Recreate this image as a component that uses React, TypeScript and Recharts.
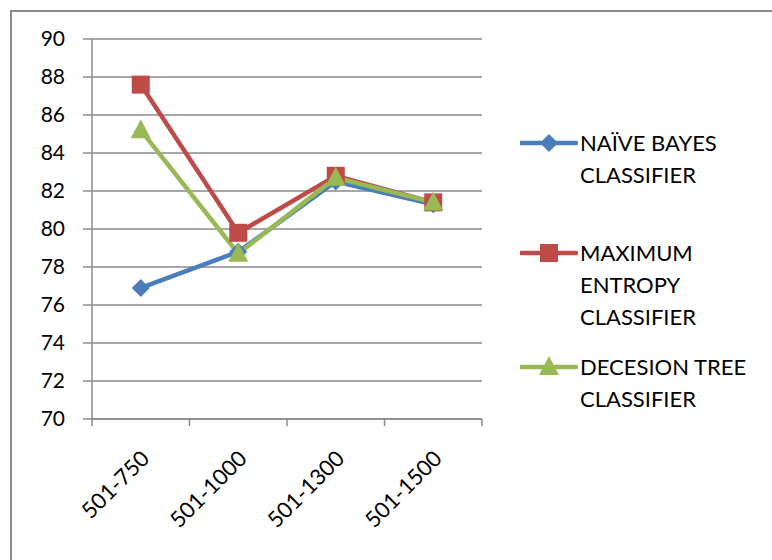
import { CartesianGrid, Line, LineChart, XAxis, YAxis } from "recharts";

const categories = ["501-750", "501-1000", "501-1300", "501-1500"];
const naiveBayes = [76.9, 78.8, 82.5, 81.3];
const maxEntropy = [87.6, 79.8, 82.8, 81.4];
const decisionTree = [85.2, 78.7, 82.7, 81.4];
const yTicks = [70, 72, 74, 76, 78, 80, 82, 84, 86, 88, 90];
// band edges get a tick mark, band centres get the category label
const xTicks = [0, 0.5, 1, 1.5, 2, 2.5, 3, 3.5, 4];

const series = [
    { key: "nb", name: "NAÏVE BAYES CLASSIFIER", color: "#4a7ebb", shape: "diamond", gap: 46 },
    { key: "me", name: "MAXIMUM ENTROPY CLASSIFIER", color: "#be4b48", shape: "square", gap: 18 },
    { key: "dt", name: "DECESION TREE CLASSIFIER", color: "#98b954", shape: "triangle", gap: 0 },
];

const data = categories.map((c, i) => ({
    x: i + 0.5,
    name: c,
    nb: naiveBayes[i],
    me: maxEntropy[i],
    dt: decisionTree[i],
}));

const FONT = "Lato, 'Open Sans', sans-serif";

function Marker({ cx, cy, shape, color }: { cx: number; cy: number; shape: string; color: string }) {
    if (shape === "diamond") {
        const r = 9;
        return <path d={`M${cx},${cy - r}L${cx + r},${cy}L${cx},${cy + r}L${cx - r},${cy}Z`} fill={color} />;
    }
    if (shape === "square") {
        return <rect x={cx - 9} y={cy - 9} width={18} height={18} fill={color} />;
    }
    return <path d={`M${cx},${cy - 11}L${cx + 10},${cy + 8}L${cx - 10},${cy + 8}Z`} fill={color} />;
}

function makeDot(shape: string, color: string) {
    return (p: any) => <Marker key={p.index} cx={p.cx} cy={p.cy} shape={shape} color={color} />;
}

function XTick({ x, y, payload }: any) {
    const v = payload.value;
    if (Number.isInteger(v)) {
        return <line x1={x} x2={x} y1={y} y2={y + 7} stroke="#8a8a8a" strokeWidth={1.5} />;
    }
    return (
        <g transform={`translate(${x + 10},${y + 41})`}>
            <text transform="rotate(-45)" textAnchor="end" fontSize={22} fontFamily={FONT} fill="#000">
                {categories[Math.floor(v)]}
            </text>
        </g>
    );
}

function LegendBox() {
    return (
        <div
            style={{
                position: "absolute",
                left: 520,
                top: 127,
                width: 250,
                fontFamily: FONT,
                fontSize: 22,
                lineHeight: "32px",
                color: "#000",
            }}
        >
            {series.map((s) => (
                <div key={s.key} style={{ display: "flex", alignItems: "flex-start", marginBottom: s.gap }}>
                    <svg width={58} height={32} style={{ flex: "none" }}>
                        <line x1={1} x2={56} y1={16} y2={16} stroke={s.color} strokeWidth={4.5} strokeLinecap="round" />
                        <Marker cx={29} cy={16} shape={s.shape} color={s.color} />
                    </svg>
                    <div style={{ width: 180, marginLeft: 2 }}>{s.name}</div>
                </div>
            ))}
        </div>
    );
}

export default function App() {
    return (
        <div style={{ position: "absolute", left: 0, top: 0, width: 772, height: 560, background: "#fff", overflow: "hidden" }}>
            <div
                style={{
                    position: "absolute",
                    left: 10,
                    top: 10,
                    width: 800,
                    height: 600,
                    borderTop: "2px solid #8c8c8c",
                    borderLeft: "2px solid #8c8c8c",
                }}
            />
            <LineChart width={772} height={560} data={data} margin={{ top: 39, right: 290, bottom: 41, left: 12 }}>
                <CartesianGrid vertical={false} stroke="#8a8a8a" strokeWidth={1.5} />
                <XAxis
                    type="number"
                    dataKey="x"
                    domain={[0, 4]}
                    ticks={xTicks}
                    interval={0}
                    height={100}
                    stroke="#8a8a8a"
                    strokeWidth={1.5}
                    tickLine={false}
                    tickSize={0}
                    tickMargin={0}
                    tick={<XTick />}
                />
                <YAxis
                    domain={[70, 90]}
                    ticks={yTicks}
                    width={80}
                    stroke="#8a8a8a"
                    strokeWidth={1.5}
                    tickSize={9}
                    tickMargin={18}
                    tick={{ fill: "#000", fontSize: 21, fontFamily: FONT }}
                />
                {series.map((s) => (
                    <Line
                        key={s.key}
                        dataKey={s.key}
                        name={s.name}
                        stroke={s.color}
                        strokeWidth={4.5}
                        dot={makeDot(s.shape, s.color)}
                        activeDot={false}
                        isAnimationActive={false}
                    />
                ))}
            </LineChart>
            <LegendBox />
        </div>
    );
}
